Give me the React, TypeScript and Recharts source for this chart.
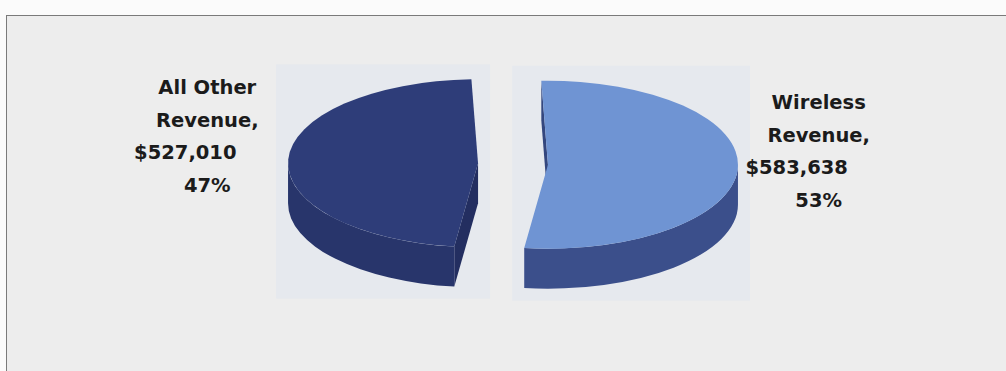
import React from 'react';
import { PieChart, Pie, Cell } from 'recharts';

// revenue split
const categories = ['All Other Revenue', 'Wireless Revenue'];
const revenue = [527010, 583638];

const TOP_COLORS = ['#2e3d79', '#6f94d3'];
const SIDE_COLORS = ['#28356b', '#3b4f8b'];
const EDGE_COLORS = ['#232e60', '#34477e'];
const PLATE_COLOR = '#e6e9ee';

const chartData = categories.map((name, i) => ({ name, value: revenue[i] }));

// fake 3D: squash the circle into an ellipse and give it a thickness
const TILT = 0.442;
const DEPTH = 40;
const EXPLODE = 35;
const LABEL_R = 306;
const LABEL_TILT = 0.54;
const RAD = Math.PI / 180;

const sideRanges = (a1: number, a2: number) => {
  const out: [number, number][] = [];
  for (let k = -1; k <= 2; k++) {
    const s = Math.max(a1, 180 + 360 * k);
    const e = Math.min(a2, 360 + 360 * k);
    if (e > s) out.push([s, e]);
  }
  return out;
};

function Slice3D(props: any) {
  const { cx, cy, outerRadius: r, startAngle, endAngle, midAngle } = props;
  const name = props.payload?.name ?? props.name;
  const idx = Math.max(0, categories.indexOf(name));
  const a1 = Math.min(startAngle, endAngle);
  const a2 = Math.max(startAngle, endAngle);
  const ox = cx + EXPLODE * Math.cos(midAngle * RAD);
  const oy = cy - EXPLODE * TILT * Math.sin(midAngle * RAD);
  const ry = r * TILT;

  const xy = (a: number, d = 0): [number, number] => [
    ox + r * Math.cos(a * RAD),
    oy - ry * Math.sin(a * RAD) + d,
  ];
  const P = (a: number, d = 0) => {
    const [x, y] = xy(a, d);
    return `${x.toFixed(2)},${y.toFixed(2)}`;
  };

  const large = a2 - a1 > 180 ? 1 : 0;
  const top = `M${ox},${oy} L${P(a1)} A${r},${ry} 0 ${large} 0 ${P(a2)} Z`;
  const sides = sideRanges(a1, a2).map(
    ([s, e]) => `M${P(s)} A${r},${ry} 0 0 0 ${P(e)} L${P(e, DEPTH)} A${r},${ry} 0 0 1 ${P(s, DEPTH)} Z`
  );
  const faces: number[] = [];
  if (Math.sin((a1 - 90) * RAD) < -0.01) faces.push(a1);
  if (Math.sin((a2 + 90) * RAD) < -0.01) faces.push(a2);
  const facePaths = faces.map(
    (a) => `M${ox},${oy} L${P(a)} L${P(a, DEPTH)} L${ox},${oy + DEPTH} Z`
  );

  // bounding box for the pale plate behind each slice
  const pts: [number, number][] = [[ox, oy], xy(a1), xy(a2)];
  for (let a = Math.ceil(a1 / 90) * 90; a <= a2; a += 90) pts.push(xy(a));
  const xs = pts.map((p) => p[0]);
  const ys = pts.map((p) => p[1]);
  const pad = 12;
  const bx = Math.min(...xs) - pad;
  const by = Math.min(...ys) - pad - 3;
  const bw = Math.max(...xs) - Math.min(...xs) + pad * 2;
  const bh = Math.max(...ys) + DEPTH - Math.min(...ys) + pad * 2 + 3;

  return (
    <g>
      <rect x={bx} y={by} width={bw} height={bh} fill={PLATE_COLOR} />
      {facePaths.map((d, i) => (
        <path key={`f${i}`} d={d} fill={EDGE_COLORS[idx]} />
      ))}
      {sides.map((d, i) => (
        <path key={`s${i}`} d={d} fill={SIDE_COLORS[idx]} />
      ))}
      <path d={top} fill={TOP_COLORS[idx]} />
    </g>
  );
}

const renderLabel = (props: any) => {
  const { cx, cy, midAngle, value, percent } = props;
  const name: string = props.payload?.name ?? props.name;
  const x = cx + LABEL_R * Math.cos(midAngle * RAD);
  const yc = cy - 21 - LABEL_R * LABEL_TILT * Math.sin(midAngle * RAD);
  const words = name.split(' ');
  const lines = [
    words.slice(0, -1).join(' '),
    words[words.length - 1] + ',',
    `$${Number(value).toLocaleString('en-US')}`,
    `${Math.round(percent * 100)}%`,
  ];
  const b1 = yc - 41.5;
  return (
    <text
      x={x}
      y={b1}
      textAnchor="middle"
      fill="#1b1b1b"
      fontFamily="'DejaVu Sans', sans-serif"
      fontWeight="bold"
      fontSize={19.5}
    >
      {lines.map((t, i) => (
        <tspan key={i} x={x + (i === 2 ? -22 : 0)} y={b1 + i * 32.7}>
          {t}
        </tspan>
      ))}
    </text>
  );
};

export default function App() {
  return (
    <div style={{ position: 'relative', width: 1006, height: 371, overflow: 'hidden', background: '#fbfbfb' }}>
      <style>{'body{margin:0}'}</style>
      <div
        style={{
          position: 'absolute',
          left: 6,
          top: 15,
          width: 1020,
          height: 380,
          border: '1.5px solid #7a7a7a',
          background: '#ededed',
        }}
      />
      <div style={{ position: 'absolute', left: 0, top: 0 }}>
        <PieChart width={1006} height={371} margin={{ top: 0, right: 0, bottom: 0, left: 0 }}>
          <Pie
            data={chartData}
            dataKey="value"
            nameKey="name"
            cx={513}
            cy={164}
            outerRadius={190}
            startAngle={92}
            endAngle={452}
            stroke="none"
            shape={Slice3D}
            label={renderLabel}
            labelLine={false}
            isAnimationActive={false}
          >
            {chartData.map((d, i) => (
              <Cell key={d.name} fill={TOP_COLORS[i]} />
            ))}
          </Pie>
        </PieChart>
      </div>
    </div>
  );
}
